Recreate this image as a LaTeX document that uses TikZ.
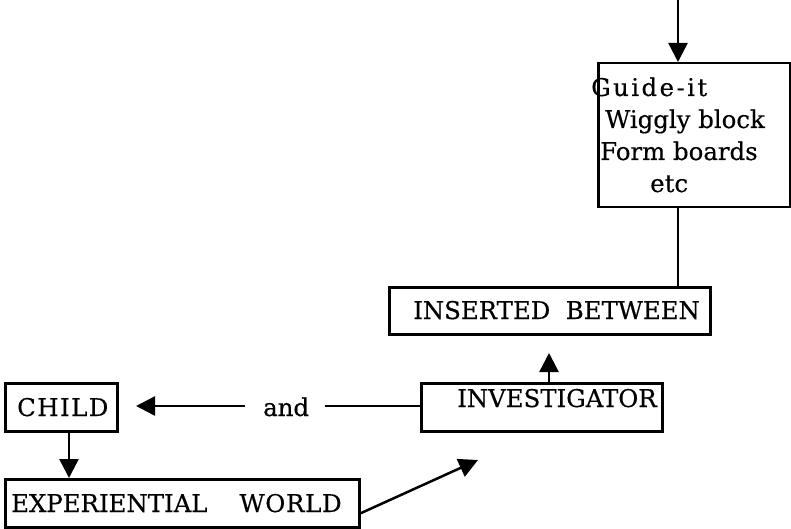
\documentclass[tikz,border=0pt]{standalone}
\usepackage{fontspec}
\setmainfont[FakeBold=0.4]{DejaVu Serif}
\usetikzlibrary{arrows.meta}
\begin{document}
\begin{tikzpicture}[x=1pt,y=-1pt,
  box/.style={draw,line width=2.5pt,inner sep=0pt,anchor=north west},
  txt/.style={inner sep=0pt,anchor=base west,font=\fontsize{24.4}{28}\selectfont},
  ln/.style={line width=2.5pt},
  arr/.style={line width=2.5pt,-{Triangle[length=19pt,width=19pt]}}]
\useasboundingbox (0,0) rectangle (791,529);
% boxes
\node[box,minimum width=192pt,minimum height=144pt] (guide) at (597,62) {};
\node[box,minimum width=321pt,minimum height=47pt] (ins) at (388,286) {};
\node[box,minimum width=241pt,minimum height=48pt] (inv) at (420,382) {};
\node[box,minimum width=112pt,minimum height=48pt] (child) at (4,382) {};
\node[box,minimum width=354pt,minimum height=48pt] (exp) at (4,478) {};
% texts
\node[txt] (t1) at (591,96) {\addfontfeatures{LetterSpace=10}Guide-it};
\node[txt] (t2) at (605,128) {Wiggly block};
\node[txt] (t3) at (600,160) {Form boards};
\node[txt] (t4) at (650,192) {etc};
\node[txt] (t5) at (413,319) {INSERTED\ \ BETWEEN};
\node[txt] (t6) at (457,407) {INVESTIGATOR};
\node[txt] (t7) at (17,416) {\addfontfeatures{LetterSpace=6}CHILD};
\node[txt] (and) at (263,416) {and};
\node[txt] (t8) at (11,512) {EXPERIENTIAL\hspace{32pt}\addfontfeatures{LetterSpace=3}WORLD};
% connectors
\coordinate (top) at (678,0);
\draw[arr] (top) -- (guide.north -| top);
\draw[ln] (guide.south -| top) -- (ins.north -| top);
\coordinate (invup) at (549,353);
\draw[arr] (inv.north -| invup) -- (invup);
\coordinate (andr) at (325,406);
\coordinate (andl) at (245,406);
\coordinate (childtip) at (136,406);
\draw[ln] (inv.west |- andr) -- (andr);
\draw[arr] (andl) -- (childtip);
\coordinate (cx) at (69,0);
\draw[arr] (child.south -| cx) -- (exp.north -| cx);
\coordinate (exptip) at (478,460);
\draw[arr] (359,514) -- (exptip);
\end{tikzpicture}
\end{document}
